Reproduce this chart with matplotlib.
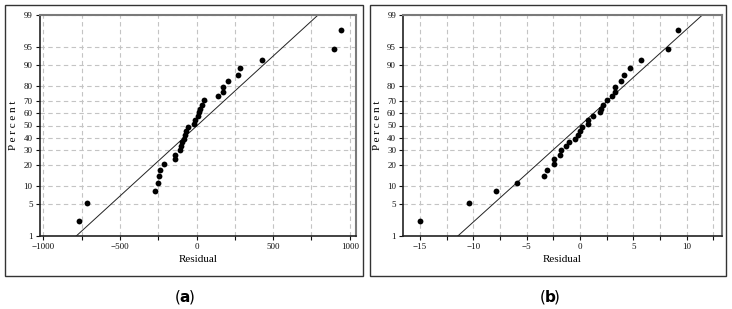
import numpy as np
import matplotlib
matplotlib.use("Agg")
import matplotlib.pyplot as plt
from matplotlib.patches import Rectangle
from matplotlib.ticker import FixedLocator, MultipleLocator
from statistics import NormalDist

plt.rcParams['font.family'] = ['Liberation Serif', 'DejaVu Serif']

# percent (plotting position) of each ordered residual
percent = [2.2, 5.2, 8.3, 11.4, 14.5, 17.6, 20.7, 23.8, 26.9, 30.0, 33.0, 36.1,
           39.2, 42.3, 45.4, 48.5, 51.5, 54.6, 57.7, 60.8, 63.9, 67.0, 70.1, 73.1,
           76.2, 79.3, 82.4, 85.5, 88.6, 91.7, 94.7, 97.8]

# (a) residuals
res_a = [-765, -717, -272, -255, -244, -242, -211, -144, -144, -107, -105, -96,
         -85, -76, -68, -57, -20, -9, 7, 13, 24, 37, 50, 142,
         172, 172, 205, 272, 281, 425, 895, 941]
line_a_x = [-786, 793]

# (b) residuals
res_b = [-15.0, -10.4, -7.89, -5.90, -3.35, -3.11, -2.42, -2.42, -1.93, -1.80, -1.34, -1.06,
         -0.47, -0.19, -0.03, 0.16, 0.71, 0.71, 1.21, 1.83, 1.93, 2.11, 2.52, 2.98,
         3.23, 3.23, 3.82, 4.10, 4.66, 5.75, 8.23, 9.19]
line_b_x = [-11.46, 11.46]
line_p = [1, 99]

yticks = [1, 5, 10, 20, 30, 40, 50, 60, 70, 80, 90, 95, 99]

nd = NormalDist()


def _f(p):
    if p != p:
        return p
    return nd.inv_cdf(min(max(p, 1e-6), 100 - 1e-6) / 100.0)


def _i(z):
    if z != z:
        return z
    return nd.cdf(z) * 100.0


_fwd = np.vectorize(_f, otypes=[float])
_inv = np.vectorize(_i, otypes=[float])


def fwd(p):
    return _fwd(np.asarray(p, dtype=float))


def inv(z):
    return _inv(np.asarray(z, dtype=float))


fig = plt.figure(figsize=(7.32, 3.09), dpi=100)

W, H = 732.0, 309.0
# outer panel frames (pixels)
for (x0, y0, x1, y1) in [(5, 5, 363, 276), (370, 5, 726, 276)]:
    fig.patches.append(Rectangle((x0 / W, 1 - y1 / H), (x1 - x0) / W, (y1 - y0) / H,
                                 transform=fig.transFigure, fill=False,
                                 edgecolor='#333333', lw=1.0))

ax1 = fig.add_axes([39.5 / W, 1 - 236 / H, (356.5 - 39.5) / W, (236 - 15) / H])
ax2 = fig.add_axes([403 / W, 1 - 236 / H, (722 - 403) / W, (236 - 15) / H])


def style(ax, xlim, major, minor):
    ax.set_yscale('function', functions=(fwd, inv))
    ax.set_ylim(1, 99)
    ax.set_xlim(*xlim)
    ax.yaxis.set_major_locator(FixedLocator(yticks))
    ax.yaxis.set_minor_locator(FixedLocator([]))
    ax.set_yticklabels([str(t) for t in yticks])
    ax.xaxis.set_major_locator(MultipleLocator(major))
    ax.xaxis.set_minor_locator(MultipleLocator(minor))
    ax.grid(True, which='both', axis='x', color='#c4c4c4', ls=(0, (4, 3)), lw=0.8)
    ax.grid(True, which='major', axis='y', color='#c4c4c4', ls=(0, (4, 3)), lw=0.8)
    ax.set_axisbelow(True)
    ax.tick_params(which='both', direction='out', length=3, width=0.8,
                   labelsize=6.5, pad=2, colors='#111111')
    for s in ['left', 'bottom']:
        ax.spines[s].set_color('#222222')
        ax.spines[s].set_linewidth(1.2)
    for s in ['top', 'right']:
        ax.spines[s].set_color('#7a7a7a')
        ax.spines[s].set_linewidth(1.5)
    ax.set_xlabel("Residual", fontsize=8, labelpad=3)
    ax.set_ylabel("P e r c e n t", fontsize=8, labelpad=4)


style(ax1, (-1026, 1044), 500, 250)
style(ax2, (-16.6, 13.3), 5, 2.5)

ax1.plot(line_a_x, line_p, color='#222222', lw=0.7)
ax1.plot(res_a, percent, 'o', color='black', ms=4.2, mew=0)
ax2.plot(line_b_x, line_p, color='#222222', lw=0.7)
ax2.plot(res_b, percent, 'o', color='black', ms=4.2, mew=0)

for cx, letter in [(185, 'a'), (550, 'b')]:
    y = 1 - 297 / H
    fig.text(cx / W, y, letter, fontsize=11, fontweight='bold', ha='center', va='center',
             family='DejaVu Sans')
    fig.text((cx - 4) / W, y, '(', fontsize=11, ha='right', va='center', family='DejaVu Sans')
    fig.text((cx + 4) / W, y, ')', fontsize=11, ha='left', va='center', family='DejaVu Sans')

fig.savefig("out.png", dpi=100)
